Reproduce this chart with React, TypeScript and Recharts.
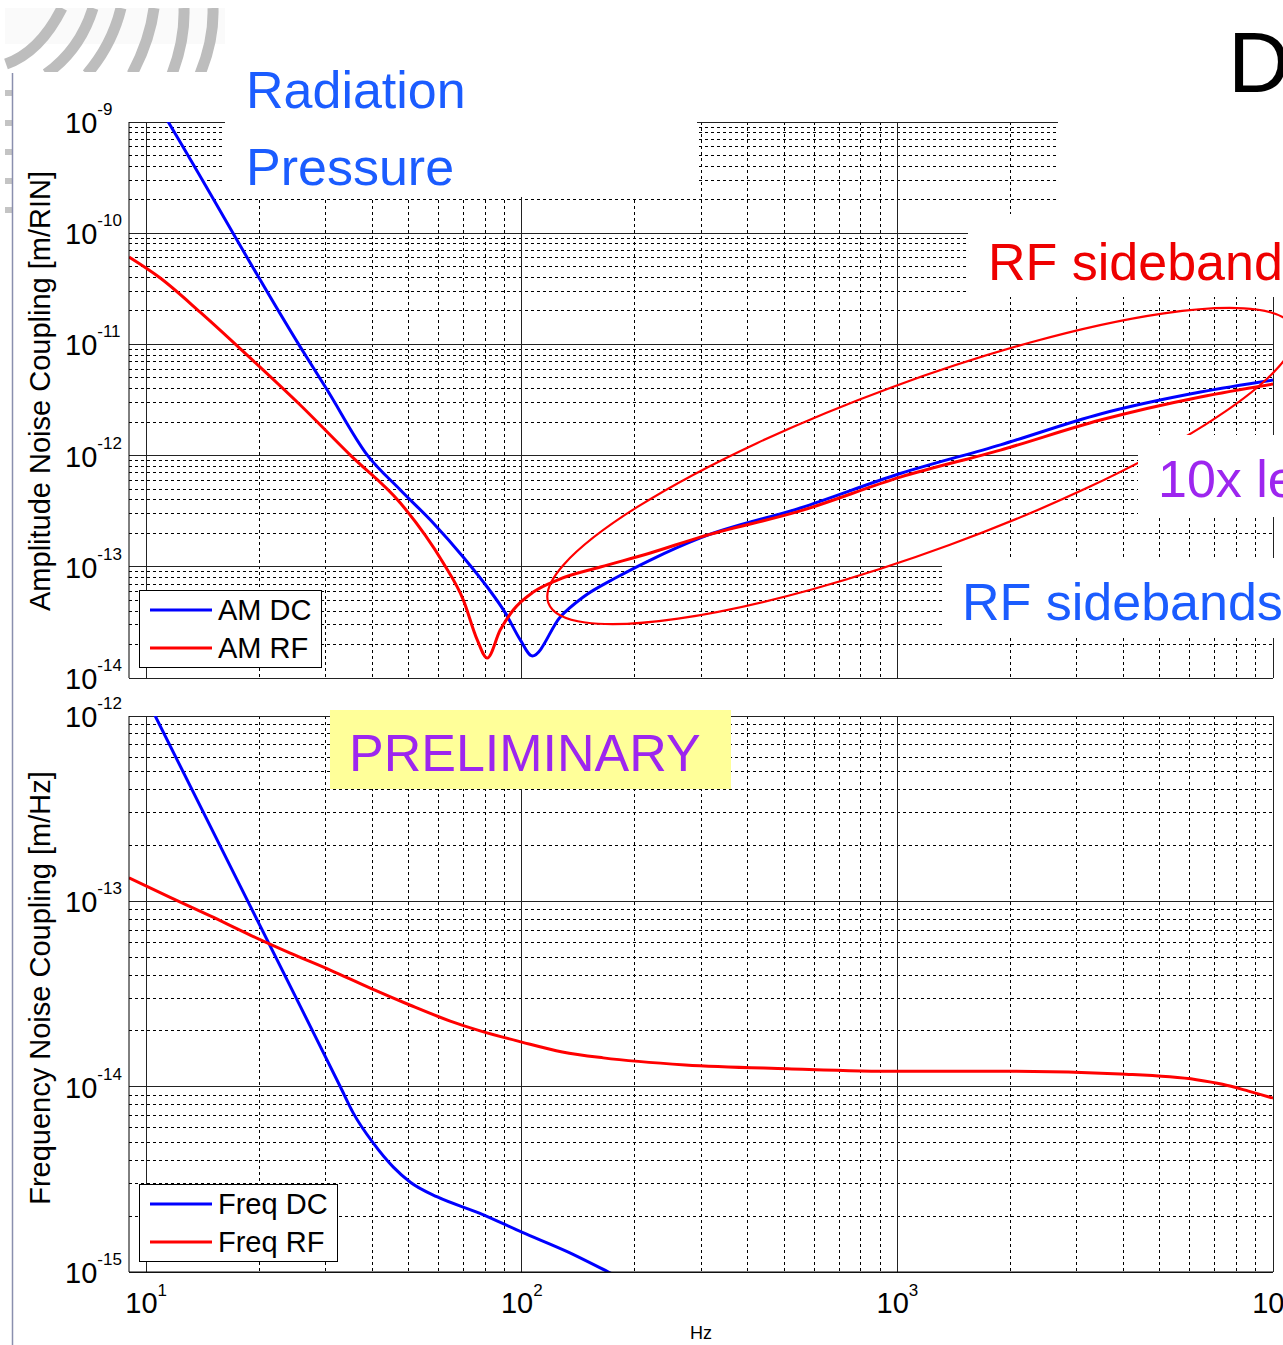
import React from "react";
import { LineChart, Line, XAxis, YAxis, CartesianGrid, Legend, Label } from "recharts";

const FONT = "'Liberation Sans', Arial, Helvetica, sans-serif";
const BLUE = "#0000ff";
const RED = "#ff0000";
const NOTE_BLUE = "#1b5cff";
const NOTE_RED = "#ee0000";
const NOTE_PURPLE = "#9d26ef";

// [frequency in Hz, coupling]
const amDc: [number, number][] = [
  [9.0, 3.85e-9], [11.45, 1.0e-9], [25.71, 9.5e-12], [30.34, 3.89e-12], [38.8, 1.01e-12],
  [47.5, 4.91e-13], [58.1, 2.48e-13], [69.9, 1.22e-13], [80.9, 6.58e-14], [90.4, 3.85e-14],
  [99.1, 2.2e-14], [106.6, 1.58e-14], [126.6, 3.54e-14], [145.8, 5.35e-14], [179.6, 8.09e-14],
  [219.9, 1.15e-13], [298.8, 1.82e-13], [551.7, 3.38e-13], [1018, 6.9e-13], [1881, 1.25e-12],
  [3472, 2.37e-12], [6411, 3.73e-12], [10000, 4.78e-12],
];

const amRf: [number, number][] = [
  [9.0, 6.1e-11], [10.9, 3.95e-11], [13.92, 1.95e-11], [18.92, 7.55e-12], [25.71, 2.85e-12],
  [34.95, 1.01e-12], [47.5, 3.75e-13], [61.8, 1.08e-13], [69.9, 5.02e-14], [76.1, 2.2e-14],
  [80.9, 1.51e-14], [87.6, 2.7e-14], [94.9, 4.09e-14], [107.3, 5.93e-14], [124.3, 7.6e-14],
  [161.8, 9.95e-14], [219.9, 1.33e-13], [298.8, 1.85e-13], [551.7, 3.18e-13], [1018, 6.4e-13],
  [1881, 1.12e-12], [3472, 2.09e-12], [6411, 3.37e-12], [10000, 4.4e-12],
];

const freqDc: [number, number][] = [
  [9.0, 1.93e-12], [10.57, 1.0e-12], [25.71, 2.72e-14], [32.9, 9.96e-15], [35.6, 7.2e-15],
  [40.2, 4.97e-15], [45.5, 3.68e-15], [50.5, 3.05e-15], [59.6, 2.54e-15], [77.1, 2.08e-15],
  [100, 1.64e-15], [133, 1.28e-15], [170, 1.0e-15], [207, 8.2e-16],
];

const freqRf: [number, number][] = [
  [9.0, 1.34e-13], [11.58, 1.05e-13], [14.81, 8.34e-14], [18.92, 6.58e-14], [24.18, 5.26e-14],
  [30.9, 4.26e-14], [39.5, 3.4e-14], [50.5, 2.75e-14], [64.5, 2.26e-14], [77.5, 2.0e-14],
  [100, 1.74e-14], [128.2, 1.54e-14], [164.8, 1.43e-14], [272.5, 1.31e-14], [509.4, 1.25e-14],
  [1000, 1.21e-14], [2000, 1.21e-14], [3926, 1.17e-14], [6256, 1.09e-14], [7337, 1.03e-14],
  [8606, 9.46e-15], [10000, 8.67e-15],
];

const freqDomain: [number, number] = [9, 10000];
const freqTicks = [10, 100, 1000, 10000];
const amTicks = [1e-14, 1e-13, 1e-12, 1e-11, 1e-10, 1e-9];
const fmTicks = [1e-15, 1e-14, 1e-13, 1e-12];

const rows = (pts: [number, number][]) => pts.map(([f, v]) => ({ f, v }));

// 2..9 x 10^e for every decade in [lo, hi), used for the dotted grid
const minorSteps = (lo: number, hi: number) => {
  const out: number[] = [];
  for (let e = lo; e < hi; e++) for (let m = 2; m <= 9; m++) out.push(m * Math.pow(10, e));
  return out;
};

const exponent = (v: number) => Math.round(Math.log10(v));

const YTick = (props: any) => {
  const { x, y, payload } = props;
  return (
    <text x={x - 64} y={y + 11} fontSize={29} fontFamily={FONT} fill="#000">
      10<tspan dy={-18} fontSize={17}>{exponent(payload.value)}</tspan>
    </text>
  );
};

const XTick = (props: any) => {
  const { x, y, payload } = props;
  return (
    <text x={x} y={y + 41} textAnchor="middle" fontSize={29} fontFamily={FONT} fill="#000">
      10<tspan dy={-17} fontSize={17}>{exponent(payload.value)}</tspan>
    </text>
  );
};

const LegendBox = (props: any) => {
  const { payload = [] } = props;
  return (
    <div
      style={{
        background: "#fff",
        border: "1px solid #000",
        boxSizing: "border-box",
        height: 78,
        fontFamily: FONT,
        fontSize: 29,
        color: "#000",
      }}
    >
      {payload.map((p: any) => (
        <div key={p.value} style={{ display: "flex", alignItems: "center", height: 38 }}>
          <svg width={78} height={6} style={{ flex: "none" }}>
            <line x1={10} x2={72} y1={3} y2={3} stroke={p.color} strokeWidth={3} />
          </svg>
          <span style={{ lineHeight: 1 }}>{p.value}</span>
        </div>
      ))}
    </div>
  );
};

type Series = { name: string; pts: [number, number][]; color: string };

type PlotProps = {
  top: number;
  height: number;
  plotTop: number;
  plotBottom: number;
  yTicks: number[];
  yMinor: number[];
  series: Series[];
  legendTop: number;
  legendWidth: number;
  showX: boolean;
};

function CouplingPlot(p: PlotProps) {
  return (
    <div style={{ position: "absolute", left: 0, top: p.top, width: 1283, height: p.height }}>
      <LineChart
        width={1283}
        height={p.height}
        margin={{ top: p.plotTop, right: 10, bottom: p.showX ? 0 : p.plotBottom, left: 69 }}
      >
        <CartesianGrid
          horizontalValues={p.yMinor}
          verticalValues={minorSteps(1, 4)}
          stroke="#000"
          strokeDasharray="3 3"
          strokeWidth={1}
          shapeRendering="crispEdges"
        />
        <CartesianGrid
          horizontalValues={p.yTicks}
          verticalValues={freqTicks}
          stroke="#222"
          strokeWidth={1}
          shapeRendering="crispEdges"
        />
        <XAxis
          dataKey="f"
          type="number"
          scale="log"
          domain={freqDomain}
          allowDataOverflow
          ticks={freqTicks}
          interval={0}
          hide={!p.showX}
          height={p.plotBottom}
          tick={<XTick />}
          tickLine={false}
          tickSize={0}
          tickMargin={0}
          axisLine={{ stroke: "#000" }}
        >
          {p.showX && <Label value="Hz" position="insideBottom" offset={6} fontSize={18} fill="#000" fontFamily={FONT} />}
        </XAxis>
        <YAxis
          type="number"
          scale="log"
          domain={[p.yTicks[0], p.yTicks[p.yTicks.length - 1]]}
          allowDataOverflow
          ticks={p.yTicks}
          interval={0}
          width={60}
          tick={<YTick />}
          tickLine={false}
          tickSize={0}
          tickMargin={0}
          axisLine={{ stroke: "#000" }}
        />
        {p.series.map((s) => (
          <Line
            key={s.name}
            data={rows(s.pts)}
            dataKey="v"
            name={s.name}
            stroke={s.color}
            strokeWidth={3}
            dot={false}
            type="monotone"
            isAnimationActive={false}
          />
        ))}
        <Legend
          layout="horizontal"
          verticalAlign="middle"
          align="center"
          wrapperStyle={{ left: 139, top: p.legendTop, width: p.legendWidth, height: 78 }}
          content={<LegendBox />}
        />
      </LineChart>
    </div>
  );
}

// slide decorations and callouts drawn over the plots
function Annotations() {
  const arcs = [
    "M 6 64 Q 40 52 62 8",
    "M 46 74 Q 80 50 93 8",
    "M 87 74 Q 112 45 121 8",
    "M 132 74 Q 150 40 154 8",
    "M 172 74 Q 185 40 184 8",
    "M 200 74 Q 214 40 213 8",
  ];
  const txt = { fontFamily: FONT } as const;
  return (
    <svg
      width={1283}
      height={1345}
      style={{ position: "absolute", left: 0, top: 0, pointerEvents: "none" }}
    >
      <defs>
        <clipPath id="logoClip">
          <rect x={0} y={8} width={300} height={64} />
        </clipPath>
      </defs>
      <rect x={5} y={8} width={290} height={36} fill="#fafafa" />
      <g clipPath="url(#logoClip)" fill="none" stroke="#bdbdbd" strokeWidth={11}>
        {arcs.map((d) => (
          <path key={d} d={d} />
        ))}
      </g>
      {[90, 120, 149, 178, 207].map((y) => (
        <rect key={y} x={5} y={y} width={7} height={6} fill="#c4c4c4" />
      ))}
      <line x1={12.5} x2={12.5} y1={73} y2={1345} stroke="#8a8fae" strokeWidth={1.5} />

      <text transform="rotate(-90 50 391)" x={50} y={391} textAnchor="middle" fontSize={29} fill="#000" {...txt}>
        Amplitude Noise Coupling [m/RIN]
      </text>
      <text transform="rotate(-90 50 988)" x={50} y={988} textAnchor="middle" fontSize={29} fill="#000" {...txt}>
        Frequency Noise Coupling [m/Hz]
      </text>

      <ellipse
        cx={921}
        cy={466}
        rx={397}
        ry={84}
        transform="rotate(-20.2 921 466)"
        fill="none"
        stroke={RED}
        strokeWidth={2.2}
      />

      <rect x={225} y={0} width={472} height={197} fill="#fff" />
      <rect x={1058} y={0} width={225} height={214} fill="#fff" />
      <rect x={968} y={214} width={315} height={83} fill="#fff" />
      <rect x={1138} y={435} width={145} height={82} fill="#fff" />
      <rect x={942} y={558} width={341} height={80} fill="#fff" />
      <rect x={330} y={710} width={401} height={79} fill="#ffff99" />

      <text x={246} y={108} fontSize={52} fill={NOTE_BLUE} {...txt}>Radiation</text>
      <text x={246} y={185} fontSize={52} fill={NOTE_BLUE} {...txt}>Pressure</text>
      <text x={1228} y={92} fontSize={86} fill="#000" {...txt}>D</text>
      <text x={988} y={280} fontSize={52} fill={NOTE_RED} {...txt}>RF sidebands</text>
      <text x={1158} y={497} fontSize={52} fill={NOTE_PURPLE} {...txt}>10x less</text>
      <text x={962} y={620} fontSize={52} fill={NOTE_BLUE} {...txt}>RF sidebands</text>
      <text x={349} y={771} fontSize={52} fill={NOTE_PURPLE} {...txt}>PRELIMINARY</text>
    </svg>
  );
}

export default function App() {
  return (
    <div
      style={{
        position: "absolute",
        left: 0,
        top: 0,
        width: 1283,
        height: 1345,
        overflow: "hidden",
        background: "#fff",
        fontFamily: FONT,
      }}
    >
      <CouplingPlot
        top={0}
        height={700}
        plotTop={122}
        plotBottom={22}
        yTicks={amTicks}
        yMinor={minorSteps(-14, -9)}
        series={[
          { name: "AM DC", pts: amDc, color: BLUE },
          { name: "AM RF", pts: amRf, color: RED },
        ]}
        legendTop={590}
        legendWidth={183}
        showX={false}
      />
      <CouplingPlot
        top={690}
        height={655}
        plotTop={26}
        plotBottom={73}
        yTicks={fmTicks}
        yMinor={minorSteps(-15, -12)}
        series={[
          { name: "Freq DC", pts: freqDc, color: BLUE },
          { name: "Freq RF", pts: freqRf, color: RED },
        ]}
        legendTop={494}
        legendWidth={199}
        showX={true}
      />
      <Annotations />
    </div>
  );
}
